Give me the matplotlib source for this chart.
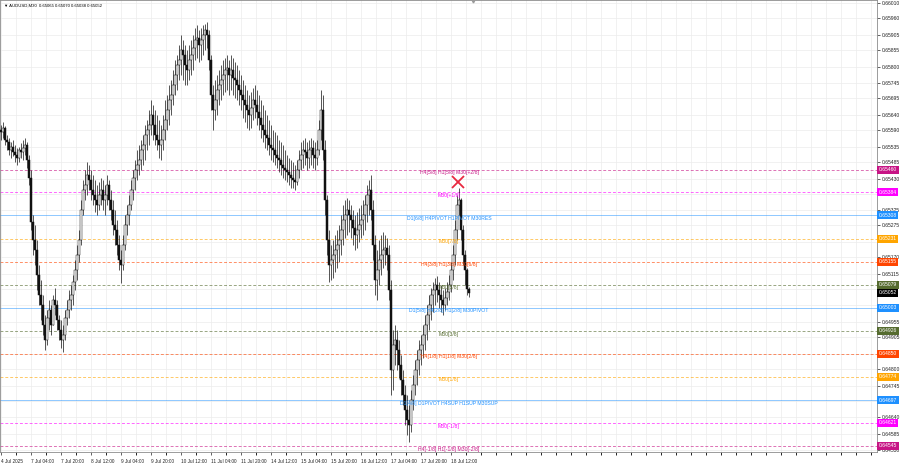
import matplotlib
matplotlib.use("Agg")
import matplotlib.pyplot as plt
from matplotlib.ticker import MultipleLocator

plt.rcParams["font.family"] = ["Liberation Sans", "DejaVu Sans"]

# chart header
symbol = "AUDUSD,M30"
last_ohlc = [0.65065, 0.65070, 0.65038, 0.65052]

# candle data in points (1 point = 0.00001)
first_open = 65590
highs = [
    65607, 65617, 65604, 65574, 65564, 65551, 65558, 65541, 65531, 65534,
    65548, 65558, 65564, 65551, 65508, 65458, 65309, 65276, 65227, 65144,
    65094, 65045, 64978, 64995, 65028, 65011, 65045, 65068, 65028, 64978,
    64962, 64945, 64995, 65028, 65061, 65078, 65111, 65160, 65210, 65260,
    65359, 65425, 65458, 65485, 65475, 65458, 65442, 65425, 65409, 65419,
    65432, 65425, 65409, 65442, 65425, 65392, 65359, 65326, 65293, 65243,
    65194, 65243, 65309, 65342, 65376, 65425, 65458, 65491, 65525, 65541,
    65558, 65574, 65607, 65624, 65657, 65690, 65673, 65657, 65640, 65624,
    65607, 65640, 65690, 65707, 65740, 65756, 65789, 65822, 65839, 65872,
    65905, 65889, 65872, 65856, 65872, 65889, 65905, 65928, 65938, 65922,
    65928, 65938, 65942, 65948, 65922, 65839, 65740, 65756, 65773, 65789,
    65806, 65822, 65829, 65839, 65822, 65839, 65829, 65816, 65806, 65789,
    65773, 65756, 65740, 65723, 65707, 65717, 65730, 65740, 65723, 65707,
    65690, 65673, 65657, 65640, 65624, 65607, 65591, 65584, 65574, 65558,
    65551, 65541, 65525, 65508, 65498, 65491, 65485, 65475, 65491, 65525,
    65551, 65558, 65564, 65551, 65558, 65564, 65558, 65551, 65558, 65624,
    65723, 65707, 65558, 65376, 65260, 65210, 65227, 65243, 65260, 65276,
    65309, 65342, 65359, 65366, 65359, 65342, 65326, 65309, 65319, 65333,
    65342, 65359, 65376, 65409, 65425, 65442, 65359, 65243, 65194, 65227,
    65243, 65253, 65243, 65233, 65210, 65094, 64929, 64945, 64929, 64896,
    64846, 64796, 64747, 64714, 64680, 64730, 64780, 64830, 64863, 64896,
    64912, 64945, 64978, 65011, 65045, 65068, 65088, 65101, 65107, 65088,
    65078, 65061, 65068, 65088, 65111, 65154, 65210, 65293, 65376, 65399,
    65366, 65276, 65194, 65134, 65070,
]
lows = [
    65558, 65564, 65541, 65525, 65508, 65498, 65505, 65485, 65475, 65485,
    65498, 65491, 65508, 65465, 65409, 65260, 65177, 65144, 65061, 65011,
    64962, 64912, 64863, 64879, 64929, 64912, 64945, 64978, 64929, 64896,
    64869, 64856, 64896, 64945, 64968, 64995, 65011, 65061, 65094, 65154,
    65210, 65309, 65359, 65376, 65392, 65359, 65342, 65319, 65309, 65326,
    65342, 65326, 65309, 65342, 65326, 65293, 65243, 65210, 65177, 65127,
    65084, 65127, 65194, 65243, 65276, 65326, 65359, 65392, 65425, 65442,
    65458, 65475, 65491, 65525, 65541, 65574, 65558, 65541, 65525, 65498,
    65491, 65525, 65558, 65591, 65607, 65640, 65673, 65707, 65723, 65756,
    65773, 65756, 65740, 65740, 65756, 65773, 65789, 65822, 65829, 65816,
    65822, 65839, 65856, 65862, 65789, 65657, 65591, 65624, 65640, 65673,
    65690, 65707, 65717, 65723, 65707, 65723, 65707, 65697, 65690, 65673,
    65657, 65630, 65617, 65597, 65591, 65597, 65624, 65630, 65607, 65591,
    65564, 65551, 65531, 65525, 65508, 65491, 65485, 65475, 65465, 65452,
    65442, 65432, 65425, 65419, 65409, 65399, 65399, 65392, 65409, 65432,
    65458, 65465, 65475, 65458, 65465, 65475, 65465, 65458, 65475, 65508,
    65558, 65491, 65309, 65177, 65088, 65094, 65101, 65121, 65134, 65154,
    65177, 65210, 65233, 65243, 65253, 65233, 65210, 65194, 65200, 65220,
    65233, 65243, 65260, 65286, 65309, 65293, 65160, 65045, 65028, 65078,
    65111, 65134, 65144, 65127, 65028, 64714, 64730, 64813, 64796, 64770,
    64714, 64680, 64614, 64581, 64558, 64591, 64664, 64714, 64747, 64780,
    64813, 64836, 64863, 64896, 64929, 64962, 64988, 65011, 65021, 65001,
    64988, 64978, 64995, 65011, 65028, 65054, 65094, 65144, 65227, 65309,
    65227, 65144, 65078, 65045, 65038,
]
closes = [
    65584, 65597, 65558, 65551, 65525, 65534, 65518, 65508, 65498, 65525,
    65518, 65531, 65541, 65491, 65432, 65286, 65227, 65194, 65111, 65045,
    65011, 64945, 64896, 64968, 64995, 64945, 65028, 65011, 64962, 64929,
    64896, 64912, 64968, 64995, 65028, 65045, 65088, 65127, 65177, 65227,
    65326, 65392, 65409, 65442, 65425, 65392, 65376, 65359, 65342, 65376,
    65392, 65359, 65376, 65409, 65359, 65326, 65276, 65260, 65210, 65160,
    65144, 65210, 65276, 65309, 65342, 65392, 65432, 65458, 65475, 65491,
    65525, 65541, 65574, 65591, 65607, 65640, 65607, 65574, 65558, 65541,
    65558, 65591, 65624, 65657, 65690, 65707, 65740, 65773, 65806, 65822,
    65856, 65839, 65806, 65789, 65822, 65839, 65862, 65889, 65895, 65872,
    65889, 65905, 65922, 65905, 65822, 65707, 65657, 65690, 65723, 65740,
    65756, 65773, 65789, 65796, 65773, 65789, 65763, 65756, 65740, 65723,
    65707, 65690, 65673, 65657, 65640, 65663, 65690, 65673, 65650, 65630,
    65607, 65591, 65574, 65564, 65541, 65531, 65525, 65508, 65498, 65491,
    65475, 65465, 65458, 65452, 65442, 65432, 65425, 65419, 65458, 65491,
    65508, 65525, 65518, 65498, 65525, 65531, 65508, 65498, 65525, 65591,
    65657, 65525, 65359, 65227, 65144, 65160, 65177, 65194, 65210, 65227,
    65260, 65293, 65309, 65326, 65309, 65293, 65266, 65243, 65260, 65276,
    65293, 65309, 65342, 65376, 65392, 65326, 65210, 65094, 65127, 65160,
    65177, 65194, 65200, 65177, 65061, 64796, 64879, 64896, 64863, 64813,
    64763, 64714, 64664, 64631, 64614, 64697, 64747, 64796, 64830, 64863,
    64879, 64912, 64945, 64978, 65011, 65045, 65061, 65078, 65061, 65045,
    65028, 65011, 65035, 65054, 65078, 65127, 65177, 65260, 65342, 65359,
    65260, 65177, 65127, 65065, 65052,
]

time_labels = ["4 Jul 2025", "7 Jul 04:00", "7 Jul 20:00", "8 Jul 12:00",
               "9 Jul 04:00", "9 Jul 20:00", "10 Jul 12:00", "11 Jul 04:00",
               "11 Jul 20:00", "14 Jul 12:00", "15 Jul 04:00", "15 Jul 20:00",
               "16 Jul 12:00", "17 Jul 04:00", "17 Jul 20:00", "18 Jul 12:00"]
label_step = 15  # bars between time labels

price_ticks = [0.66010, 0.65960, 0.65905, 0.65855, 0.65800, 0.65745, 0.65695,
               0.65640, 0.65590, 0.65535, 0.65485, 0.65430, 0.65380, 0.65325,
               0.65275, 0.65220, 0.65170, 0.65115, 0.65065, 0.65010, 0.64955,
               0.64905, 0.64850, 0.64800, 0.64745, 0.64695, 0.64640, 0.64585,
               0.64530]

# murrey math levels
levels = [0.65460, 0.65384, 0.65308, 0.65231, 0.65155, 0.65079, 0.65003,
          0.64926, 0.64850, 0.64774, 0.64697, 0.64621, 0.64545]
level_names = ["H4[5/8] H1[5/8] M30[+2/8]", "M30[+1/8]",
               "D1[6/8] H4PIVOT H1PIVOT M30RES", "M30[7/8]",
               "H4[3/8] H1[3/8] M30[6/8]", "M30[5/8]",
               "D1[5/8] H4[2/8] H1[2/8] M30PIVOT", "M30[3/8]",
               "H4[1/8] H1[1/8] M30[2/8]", "M30[1/8]",
               "D1[4/8] D1PIVOT H4SUP H1SUP M30SUP", "M30[-1/8]",
               "H4[-1/8] H1[-1/8] M30[-2/8]"]
level_colors = ["#c71585", "#ff00ff", "#1e90ff", "#ffa500", "#ff4500",
                "#556b2f", "#1e90ff", "#556b2f", "#ff4500", "#ffa500",
                "#1e90ff", "#ff00ff", "#c71585"]
level_solid = [False, False, True, False, False, False, True, False, False,
               False, True, False, False]

signal_bar = 228.5
signal_price = 0.65419
shift_bar = 236  # chart shift marker

fig = plt.figure(figsize=(9, 4.68), dpi=100)
ax = fig.add_axes([0.0, 16 / 468, 877 / 900, 452 / 468])

# candles
opens = [first_open] + closes[:-1]
for i in range(len(closes)):
    o = opens[i] / 1e5
    c = closes[i] / 1e5
    h = max(highs[i] / 1e5, o, c)
    l = min(lows[i] / 1e5, o, c)
    ax.vlines(i, l, h, color="#111111", lw=0.5, zorder=3)
    if c >= o:
        ax.bar(i, max(c - o, 0.000004), bottom=o, width=0.6, facecolor="white",
               edgecolor="#111111", lw=0.35, zorder=4)
    else:
        ax.bar(i, o - c, bottom=c, width=0.6, facecolor="#111111",
               edgecolor="#111111", lw=0.35, zorder=4)

box_levels = levels + [last_ohlc[3]]

# levels
for lv, name, col, solid in zip(levels, level_names, level_colors, level_solid):
    if solid:
        ax.axhline(lv, color=col, lw=0.7, alpha=0.5, zorder=2)
    else:
        ax.axhline(lv, color=col, lw=0.7, alpha=0.6, dashes=(3, 2), zorder=2)
    ax.annotate(name, (224, lv), xytext=(0, -2.3), textcoords="offset points",
                ha="center", va="center", fontsize=3.7, color=col, zorder=5)
    ax.text(1.002, lv, f"{lv:.5f}", transform=ax.get_yaxis_transform(),
            ha="left", va="center", fontsize=3.6, color="white",
            bbox=dict(boxstyle="square,pad=0.3", fc=col, ec="none"), zorder=6)

# current price label
ax.text(1.002, last_ohlc[3], f"{last_ohlc[3]:.5f}", transform=ax.get_yaxis_transform(),
        ha="left", va="center", fontsize=3.6, color="white",
        bbox=dict(boxstyle="square,pad=0.3", fc="black", ec="none"), zorder=6)

ax.plot(signal_bar, signal_price, marker="x", ms=9, mew=1.3, color="#e8283f", zorder=6)

ax.set_xlim(-0.5, 438)
ax.set_ylim(0.64525, 0.66021)

ax.plot(shift_bar, 0.66021, marker="v", ms=3.5, color="#9a9a9a", clip_on=False, zorder=7)

# price scale: labels hidden where a level box covers them
ax.yaxis.tick_right()
ax.set_yticks(price_ticks)
tick_text = []
for p in price_ticks:
    if min(abs(p - b) for b in box_levels) < 0.000145:
        tick_text.append("")
    else:
        tick_text.append(f"{p:.5f}")
ax.set_yticklabels(tick_text)
ax.tick_params(axis="y", labelsize=3.6, length=2, pad=1.5, width=0.5, colors="#222222")

xt = [i * label_step for i in range(len(time_labels))]
ax.set_xticks(xt)
ax.set_xticklabels(time_labels, ha="left")
ax.tick_params(axis="x", labelsize=3.4, length=2, pad=3, width=0.5, colors="#222222")
ax.xaxis.set_minor_locator(MultipleLocator(label_step / 2))

ax.grid(True, which="both", color="#ececec", lw=0.5, zorder=0)

for s in ax.spines.values():
    s.set_color("#8c8c8c")
    s.set_linewidth(0.6)

ax.text(0.004, 0.993, "\u25bc " + symbol + "  " + " ".join(f"{v:.5f}" for v in last_ohlc),
        transform=ax.transAxes, ha="left", va="top", fontsize=3.1, color="black")

fig.savefig("out.png", dpi=100)
